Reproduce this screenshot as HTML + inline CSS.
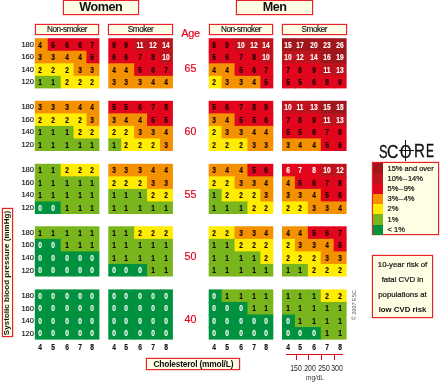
<!DOCTYPE html>
<html><head><meta charset="utf-8"><title>SCORE chart</title>
<style>
html,body{margin:0;padding:0;background:#fff;}
body{width:440px;height:383px;position:relative;overflow:hidden;font-family:"Liberation Sans",sans-serif;color:#111;}
.c{position:absolute;width:12.92px;height:12.55px;}
.n{position:absolute;font-weight:bold;font-size:8.6px;line-height:12.55px;height:12.55px;width:16px;text-align:center;transform:scaleX(.77);color:#100;margin-top:.4px;-webkit-text-stroke:.15px #100;}
.w{color:#fff;-webkit-text-stroke:.12px #fff;}
.bp{position:absolute;font-size:8.1px;line-height:12.55px;width:20px;text-align:right;transform:scaleX(.93);transform-origin:100% 50%;color:#111;-webkit-text-stroke:.15px #111;margin-top:.6px;}
.ax{position:absolute;font-weight:bold;font-size:8.6px;line-height:10px;width:16px;text-align:center;transform:scaleX(.78);color:#111;-webkit-text-stroke:.15px #111;}
.box{position:absolute;box-sizing:border-box;background:#fffde3;border:1px solid #e8222b;box-shadow:0 0 0 .5px rgba(244,150,140,.7);text-align:center;white-space:nowrap;}
.age{position:absolute;color:#e2061d;font-size:10.6px;line-height:12px;width:30px;text-align:center;-webkit-text-stroke:.2px #e2061d;}
</style></head><body>

<div class="box" style="left:62.5px;top:0.3px;width:76.5px;height:14.8px;font-weight:bold;font-size:12.6px;line-height:13.6px;letter-spacing:-.45px;">Women</div>
<div class="box" style="left:236.3px;top:0.3px;width:76.5px;height:14.8px;font-weight:bold;font-size:12.6px;line-height:13.6px;letter-spacing:-.45px;">Men</div>
<div class="box" style="left:34.8px;top:23.5px;width:64.6px;height:11.8px;font-size:8.2px;line-height:9.8px;letter-spacing:-.45px;-webkit-text-stroke:.15px #111;">Non-smoker</div>
<div class="box" style="left:108.3px;top:23.5px;width:64.6px;height:11.8px;font-size:8.2px;line-height:9.8px;letter-spacing:-.45px;-webkit-text-stroke:.15px #111;">Smoker</div>
<div class="box" style="left:208.7px;top:23.5px;width:64.6px;height:11.8px;font-size:8.2px;line-height:9.8px;letter-spacing:-.45px;-webkit-text-stroke:.15px #111;">Non-smoker</div>
<div class="box" style="left:282.0px;top:23.5px;width:64.6px;height:11.8px;font-size:8.2px;line-height:9.8px;letter-spacing:-.45px;-webkit-text-stroke:.15px #111;">Smoker</div>
<div class="age" style="left:175.5px;top:27.2px;font-size:11px;letter-spacing:-.3px;">Age</div>
<div class="age" style="left:175.4px;top:62.0px;">65</div>
<div class="age" style="left:175.4px;top:124.6px;">60</div>
<div class="age" style="left:175.4px;top:187.6px;">55</div>
<div class="age" style="left:175.4px;top:250.1px;">50</div>
<div class="age" style="left:175.4px;top:313.2px;">40</div>
<svg width="440" height="383" viewBox="0 0 440 383" style="position:absolute;left:0;top:0">
<rect x="34.80" y="38.20" width="13.92" height="13.55" fill="#f39100"/>
<rect x="47.72" y="38.20" width="13.92" height="13.55" fill="#e2061d"/>
<rect x="60.64" y="38.20" width="13.92" height="13.55" fill="#e2061d"/>
<rect x="73.56" y="38.20" width="13.92" height="13.55" fill="#e2061d"/>
<rect x="86.48" y="38.20" width="12.92" height="13.55" fill="#e2061d"/>
<rect x="34.80" y="50.75" width="13.92" height="13.55" fill="#f39100"/>
<rect x="47.72" y="50.75" width="13.92" height="13.55" fill="#f39100"/>
<rect x="60.64" y="50.75" width="13.92" height="13.55" fill="#f39100"/>
<rect x="73.56" y="50.75" width="13.92" height="13.55" fill="#f39100"/>
<rect x="86.48" y="50.75" width="12.92" height="13.55" fill="#e2061d"/>
<rect x="34.80" y="63.30" width="13.92" height="13.55" fill="#ffec00"/>
<rect x="47.72" y="63.30" width="13.92" height="13.55" fill="#ffec00"/>
<rect x="60.64" y="63.30" width="13.92" height="13.55" fill="#ffec00"/>
<rect x="73.56" y="63.30" width="13.92" height="13.55" fill="#f39100"/>
<rect x="86.48" y="63.30" width="12.92" height="13.55" fill="#f39100"/>
<rect x="34.80" y="75.85" width="13.92" height="12.55" fill="#79b51c"/>
<rect x="47.72" y="75.85" width="13.92" height="12.55" fill="#79b51c"/>
<rect x="60.64" y="75.85" width="13.92" height="12.55" fill="#ffec00"/>
<rect x="73.56" y="75.85" width="13.92" height="12.55" fill="#ffec00"/>
<rect x="86.48" y="75.85" width="12.92" height="12.55" fill="#ffec00"/>
<rect x="34.80" y="100.80" width="13.92" height="13.55" fill="#f39100"/>
<rect x="47.72" y="100.80" width="13.92" height="13.55" fill="#f39100"/>
<rect x="60.64" y="100.80" width="13.92" height="13.55" fill="#f39100"/>
<rect x="73.56" y="100.80" width="13.92" height="13.55" fill="#f39100"/>
<rect x="86.48" y="100.80" width="12.92" height="13.55" fill="#f39100"/>
<rect x="34.80" y="113.35" width="13.92" height="13.55" fill="#ffec00"/>
<rect x="47.72" y="113.35" width="13.92" height="13.55" fill="#ffec00"/>
<rect x="60.64" y="113.35" width="13.92" height="13.55" fill="#ffec00"/>
<rect x="73.56" y="113.35" width="13.92" height="13.55" fill="#ffec00"/>
<rect x="86.48" y="113.35" width="12.92" height="13.55" fill="#f39100"/>
<rect x="34.80" y="125.90" width="13.92" height="13.55" fill="#79b51c"/>
<rect x="47.72" y="125.90" width="13.92" height="13.55" fill="#79b51c"/>
<rect x="60.64" y="125.90" width="13.92" height="13.55" fill="#79b51c"/>
<rect x="73.56" y="125.90" width="13.92" height="13.55" fill="#ffec00"/>
<rect x="86.48" y="125.90" width="12.92" height="13.55" fill="#ffec00"/>
<rect x="34.80" y="138.45" width="13.92" height="12.55" fill="#79b51c"/>
<rect x="47.72" y="138.45" width="13.92" height="12.55" fill="#79b51c"/>
<rect x="60.64" y="138.45" width="13.92" height="12.55" fill="#79b51c"/>
<rect x="73.56" y="138.45" width="13.92" height="12.55" fill="#79b51c"/>
<rect x="86.48" y="138.45" width="12.92" height="12.55" fill="#79b51c"/>
<rect x="34.80" y="163.80" width="13.92" height="13.55" fill="#79b51c"/>
<rect x="47.72" y="163.80" width="13.92" height="13.55" fill="#79b51c"/>
<rect x="60.64" y="163.80" width="13.92" height="13.55" fill="#ffec00"/>
<rect x="73.56" y="163.80" width="13.92" height="13.55" fill="#ffec00"/>
<rect x="86.48" y="163.80" width="12.92" height="13.55" fill="#ffec00"/>
<rect x="34.80" y="176.35" width="13.92" height="13.55" fill="#79b51c"/>
<rect x="47.72" y="176.35" width="13.92" height="13.55" fill="#79b51c"/>
<rect x="60.64" y="176.35" width="13.92" height="13.55" fill="#79b51c"/>
<rect x="73.56" y="176.35" width="13.92" height="13.55" fill="#79b51c"/>
<rect x="86.48" y="176.35" width="12.92" height="13.55" fill="#79b51c"/>
<rect x="34.80" y="188.90" width="13.92" height="13.55" fill="#79b51c"/>
<rect x="47.72" y="188.90" width="13.92" height="13.55" fill="#79b51c"/>
<rect x="60.64" y="188.90" width="13.92" height="13.55" fill="#79b51c"/>
<rect x="73.56" y="188.90" width="13.92" height="13.55" fill="#79b51c"/>
<rect x="86.48" y="188.90" width="12.92" height="13.55" fill="#79b51c"/>
<rect x="34.80" y="201.45" width="13.92" height="12.55" fill="#00923f"/>
<rect x="47.72" y="201.45" width="13.92" height="12.55" fill="#00923f"/>
<rect x="60.64" y="201.45" width="13.92" height="12.55" fill="#79b51c"/>
<rect x="73.56" y="201.45" width="13.92" height="12.55" fill="#79b51c"/>
<rect x="86.48" y="201.45" width="12.92" height="12.55" fill="#79b51c"/>
<rect x="34.80" y="226.30" width="13.92" height="13.55" fill="#79b51c"/>
<rect x="47.72" y="226.30" width="13.92" height="13.55" fill="#79b51c"/>
<rect x="60.64" y="226.30" width="13.92" height="13.55" fill="#79b51c"/>
<rect x="73.56" y="226.30" width="13.92" height="13.55" fill="#79b51c"/>
<rect x="86.48" y="226.30" width="12.92" height="13.55" fill="#79b51c"/>
<rect x="34.80" y="238.85" width="13.92" height="13.55" fill="#00923f"/>
<rect x="47.72" y="238.85" width="13.92" height="13.55" fill="#00923f"/>
<rect x="60.64" y="238.85" width="13.92" height="13.55" fill="#79b51c"/>
<rect x="73.56" y="238.85" width="13.92" height="13.55" fill="#79b51c"/>
<rect x="86.48" y="238.85" width="12.92" height="13.55" fill="#79b51c"/>
<rect x="34.80" y="251.40" width="13.92" height="13.55" fill="#00923f"/>
<rect x="47.72" y="251.40" width="13.92" height="13.55" fill="#00923f"/>
<rect x="60.64" y="251.40" width="13.92" height="13.55" fill="#00923f"/>
<rect x="73.56" y="251.40" width="13.92" height="13.55" fill="#00923f"/>
<rect x="86.48" y="251.40" width="12.92" height="13.55" fill="#00923f"/>
<rect x="34.80" y="263.95" width="13.92" height="12.55" fill="#00923f"/>
<rect x="47.72" y="263.95" width="13.92" height="12.55" fill="#00923f"/>
<rect x="60.64" y="263.95" width="13.92" height="12.55" fill="#00923f"/>
<rect x="73.56" y="263.95" width="13.92" height="12.55" fill="#00923f"/>
<rect x="86.48" y="263.95" width="12.92" height="12.55" fill="#00923f"/>
<rect x="34.80" y="289.40" width="13.92" height="13.55" fill="#00923f"/>
<rect x="47.72" y="289.40" width="13.92" height="13.55" fill="#00923f"/>
<rect x="60.64" y="289.40" width="13.92" height="13.55" fill="#00923f"/>
<rect x="73.56" y="289.40" width="13.92" height="13.55" fill="#00923f"/>
<rect x="86.48" y="289.40" width="12.92" height="13.55" fill="#00923f"/>
<rect x="34.80" y="301.95" width="13.92" height="13.55" fill="#00923f"/>
<rect x="47.72" y="301.95" width="13.92" height="13.55" fill="#00923f"/>
<rect x="60.64" y="301.95" width="13.92" height="13.55" fill="#00923f"/>
<rect x="73.56" y="301.95" width="13.92" height="13.55" fill="#00923f"/>
<rect x="86.48" y="301.95" width="12.92" height="13.55" fill="#00923f"/>
<rect x="34.80" y="314.50" width="13.92" height="13.55" fill="#00923f"/>
<rect x="47.72" y="314.50" width="13.92" height="13.55" fill="#00923f"/>
<rect x="60.64" y="314.50" width="13.92" height="13.55" fill="#00923f"/>
<rect x="73.56" y="314.50" width="13.92" height="13.55" fill="#00923f"/>
<rect x="86.48" y="314.50" width="12.92" height="13.55" fill="#00923f"/>
<rect x="34.80" y="327.05" width="13.92" height="12.55" fill="#00923f"/>
<rect x="47.72" y="327.05" width="13.92" height="12.55" fill="#00923f"/>
<rect x="60.64" y="327.05" width="13.92" height="12.55" fill="#00923f"/>
<rect x="73.56" y="327.05" width="13.92" height="12.55" fill="#00923f"/>
<rect x="86.48" y="327.05" width="12.92" height="12.55" fill="#00923f"/>
<rect x="108.30" y="38.20" width="13.92" height="13.55" fill="#e2061d"/>
<rect x="121.22" y="38.20" width="13.92" height="13.55" fill="#e2061d"/>
<rect x="134.14" y="38.20" width="13.92" height="13.55" fill="#bf141d"/>
<rect x="147.06" y="38.20" width="13.92" height="13.55" fill="#bf141d"/>
<rect x="159.98" y="38.20" width="12.92" height="13.55" fill="#bf141d"/>
<rect x="108.30" y="50.75" width="13.92" height="13.55" fill="#e2061d"/>
<rect x="121.22" y="50.75" width="13.92" height="13.55" fill="#e2061d"/>
<rect x="134.14" y="50.75" width="13.92" height="13.55" fill="#e2061d"/>
<rect x="147.06" y="50.75" width="13.92" height="13.55" fill="#e2061d"/>
<rect x="159.98" y="50.75" width="12.92" height="13.55" fill="#bf141d"/>
<rect x="108.30" y="63.30" width="13.92" height="13.55" fill="#f39100"/>
<rect x="121.22" y="63.30" width="13.92" height="13.55" fill="#f39100"/>
<rect x="134.14" y="63.30" width="13.92" height="13.55" fill="#e2061d"/>
<rect x="147.06" y="63.30" width="13.92" height="13.55" fill="#e2061d"/>
<rect x="159.98" y="63.30" width="12.92" height="13.55" fill="#e2061d"/>
<rect x="108.30" y="75.85" width="13.92" height="12.55" fill="#f39100"/>
<rect x="121.22" y="75.85" width="13.92" height="12.55" fill="#f39100"/>
<rect x="134.14" y="75.85" width="13.92" height="12.55" fill="#f39100"/>
<rect x="147.06" y="75.85" width="13.92" height="12.55" fill="#f39100"/>
<rect x="159.98" y="75.85" width="12.92" height="12.55" fill="#f39100"/>
<rect x="108.30" y="100.80" width="13.92" height="13.55" fill="#e2061d"/>
<rect x="121.22" y="100.80" width="13.92" height="13.55" fill="#e2061d"/>
<rect x="134.14" y="100.80" width="13.92" height="13.55" fill="#e2061d"/>
<rect x="147.06" y="100.80" width="13.92" height="13.55" fill="#e2061d"/>
<rect x="159.98" y="100.80" width="12.92" height="13.55" fill="#e2061d"/>
<rect x="108.30" y="113.35" width="13.92" height="13.55" fill="#f39100"/>
<rect x="121.22" y="113.35" width="13.92" height="13.55" fill="#f39100"/>
<rect x="134.14" y="113.35" width="13.92" height="13.55" fill="#f39100"/>
<rect x="147.06" y="113.35" width="13.92" height="13.55" fill="#e2061d"/>
<rect x="159.98" y="113.35" width="12.92" height="13.55" fill="#e2061d"/>
<rect x="108.30" y="125.90" width="13.92" height="13.55" fill="#ffec00"/>
<rect x="121.22" y="125.90" width="13.92" height="13.55" fill="#ffec00"/>
<rect x="134.14" y="125.90" width="13.92" height="13.55" fill="#f39100"/>
<rect x="147.06" y="125.90" width="13.92" height="13.55" fill="#f39100"/>
<rect x="159.98" y="125.90" width="12.92" height="13.55" fill="#f39100"/>
<rect x="108.30" y="138.45" width="13.92" height="12.55" fill="#79b51c"/>
<rect x="121.22" y="138.45" width="13.92" height="12.55" fill="#ffec00"/>
<rect x="134.14" y="138.45" width="13.92" height="12.55" fill="#ffec00"/>
<rect x="147.06" y="138.45" width="13.92" height="12.55" fill="#ffec00"/>
<rect x="159.98" y="138.45" width="12.92" height="12.55" fill="#f39100"/>
<rect x="108.30" y="163.80" width="13.92" height="13.55" fill="#f39100"/>
<rect x="121.22" y="163.80" width="13.92" height="13.55" fill="#f39100"/>
<rect x="134.14" y="163.80" width="13.92" height="13.55" fill="#f39100"/>
<rect x="147.06" y="163.80" width="13.92" height="13.55" fill="#f39100"/>
<rect x="159.98" y="163.80" width="12.92" height="13.55" fill="#f39100"/>
<rect x="108.30" y="176.35" width="13.92" height="13.55" fill="#ffec00"/>
<rect x="121.22" y="176.35" width="13.92" height="13.55" fill="#ffec00"/>
<rect x="134.14" y="176.35" width="13.92" height="13.55" fill="#ffec00"/>
<rect x="147.06" y="176.35" width="13.92" height="13.55" fill="#f39100"/>
<rect x="159.98" y="176.35" width="12.92" height="13.55" fill="#f39100"/>
<rect x="108.30" y="188.90" width="13.92" height="13.55" fill="#79b51c"/>
<rect x="121.22" y="188.90" width="13.92" height="13.55" fill="#79b51c"/>
<rect x="134.14" y="188.90" width="13.92" height="13.55" fill="#79b51c"/>
<rect x="147.06" y="188.90" width="13.92" height="13.55" fill="#ffec00"/>
<rect x="159.98" y="188.90" width="12.92" height="13.55" fill="#ffec00"/>
<rect x="108.30" y="201.45" width="13.92" height="12.55" fill="#79b51c"/>
<rect x="121.22" y="201.45" width="13.92" height="12.55" fill="#79b51c"/>
<rect x="134.14" y="201.45" width="13.92" height="12.55" fill="#79b51c"/>
<rect x="147.06" y="201.45" width="13.92" height="12.55" fill="#79b51c"/>
<rect x="159.98" y="201.45" width="12.92" height="12.55" fill="#79b51c"/>
<rect x="108.30" y="226.30" width="13.92" height="13.55" fill="#79b51c"/>
<rect x="121.22" y="226.30" width="13.92" height="13.55" fill="#79b51c"/>
<rect x="134.14" y="226.30" width="13.92" height="13.55" fill="#ffec00"/>
<rect x="147.06" y="226.30" width="13.92" height="13.55" fill="#ffec00"/>
<rect x="159.98" y="226.30" width="12.92" height="13.55" fill="#ffec00"/>
<rect x="108.30" y="238.85" width="13.92" height="13.55" fill="#79b51c"/>
<rect x="121.22" y="238.85" width="13.92" height="13.55" fill="#79b51c"/>
<rect x="134.14" y="238.85" width="13.92" height="13.55" fill="#79b51c"/>
<rect x="147.06" y="238.85" width="13.92" height="13.55" fill="#79b51c"/>
<rect x="159.98" y="238.85" width="12.92" height="13.55" fill="#79b51c"/>
<rect x="108.30" y="251.40" width="13.92" height="13.55" fill="#79b51c"/>
<rect x="121.22" y="251.40" width="13.92" height="13.55" fill="#79b51c"/>
<rect x="134.14" y="251.40" width="13.92" height="13.55" fill="#79b51c"/>
<rect x="147.06" y="251.40" width="13.92" height="13.55" fill="#79b51c"/>
<rect x="159.98" y="251.40" width="12.92" height="13.55" fill="#79b51c"/>
<rect x="108.30" y="263.95" width="13.92" height="12.55" fill="#00923f"/>
<rect x="121.22" y="263.95" width="13.92" height="12.55" fill="#00923f"/>
<rect x="134.14" y="263.95" width="13.92" height="12.55" fill="#00923f"/>
<rect x="147.06" y="263.95" width="13.92" height="12.55" fill="#79b51c"/>
<rect x="159.98" y="263.95" width="12.92" height="12.55" fill="#79b51c"/>
<rect x="108.30" y="289.40" width="13.92" height="13.55" fill="#00923f"/>
<rect x="121.22" y="289.40" width="13.92" height="13.55" fill="#00923f"/>
<rect x="134.14" y="289.40" width="13.92" height="13.55" fill="#00923f"/>
<rect x="147.06" y="289.40" width="13.92" height="13.55" fill="#00923f"/>
<rect x="159.98" y="289.40" width="12.92" height="13.55" fill="#00923f"/>
<rect x="108.30" y="301.95" width="13.92" height="13.55" fill="#00923f"/>
<rect x="121.22" y="301.95" width="13.92" height="13.55" fill="#00923f"/>
<rect x="134.14" y="301.95" width="13.92" height="13.55" fill="#00923f"/>
<rect x="147.06" y="301.95" width="13.92" height="13.55" fill="#00923f"/>
<rect x="159.98" y="301.95" width="12.92" height="13.55" fill="#00923f"/>
<rect x="108.30" y="314.50" width="13.92" height="13.55" fill="#00923f"/>
<rect x="121.22" y="314.50" width="13.92" height="13.55" fill="#00923f"/>
<rect x="134.14" y="314.50" width="13.92" height="13.55" fill="#00923f"/>
<rect x="147.06" y="314.50" width="13.92" height="13.55" fill="#00923f"/>
<rect x="159.98" y="314.50" width="12.92" height="13.55" fill="#00923f"/>
<rect x="108.30" y="327.05" width="13.92" height="12.55" fill="#00923f"/>
<rect x="121.22" y="327.05" width="13.92" height="12.55" fill="#00923f"/>
<rect x="134.14" y="327.05" width="13.92" height="12.55" fill="#00923f"/>
<rect x="147.06" y="327.05" width="13.92" height="12.55" fill="#00923f"/>
<rect x="159.98" y="327.05" width="12.92" height="12.55" fill="#00923f"/>
<rect x="208.70" y="38.20" width="13.92" height="13.55" fill="#e2061d"/>
<rect x="221.62" y="38.20" width="13.92" height="13.55" fill="#e2061d"/>
<rect x="234.54" y="38.20" width="13.92" height="13.55" fill="#bf141d"/>
<rect x="247.46" y="38.20" width="13.92" height="13.55" fill="#bf141d"/>
<rect x="260.38" y="38.20" width="12.92" height="13.55" fill="#bf141d"/>
<rect x="208.70" y="50.75" width="13.92" height="13.55" fill="#e2061d"/>
<rect x="221.62" y="50.75" width="13.92" height="13.55" fill="#e2061d"/>
<rect x="234.54" y="50.75" width="13.92" height="13.55" fill="#e2061d"/>
<rect x="247.46" y="50.75" width="13.92" height="13.55" fill="#e2061d"/>
<rect x="260.38" y="50.75" width="12.92" height="13.55" fill="#bf141d"/>
<rect x="208.70" y="63.30" width="13.92" height="13.55" fill="#f39100"/>
<rect x="221.62" y="63.30" width="13.92" height="13.55" fill="#f39100"/>
<rect x="234.54" y="63.30" width="13.92" height="13.55" fill="#e2061d"/>
<rect x="247.46" y="63.30" width="13.92" height="13.55" fill="#e2061d"/>
<rect x="260.38" y="63.30" width="12.92" height="13.55" fill="#e2061d"/>
<rect x="208.70" y="75.85" width="13.92" height="12.55" fill="#ffec00"/>
<rect x="221.62" y="75.85" width="13.92" height="12.55" fill="#f39100"/>
<rect x="234.54" y="75.85" width="13.92" height="12.55" fill="#f39100"/>
<rect x="247.46" y="75.85" width="13.92" height="12.55" fill="#f39100"/>
<rect x="260.38" y="75.85" width="12.92" height="12.55" fill="#e2061d"/>
<rect x="208.70" y="100.80" width="13.92" height="13.55" fill="#e2061d"/>
<rect x="221.62" y="100.80" width="13.92" height="13.55" fill="#e2061d"/>
<rect x="234.54" y="100.80" width="13.92" height="13.55" fill="#e2061d"/>
<rect x="247.46" y="100.80" width="13.92" height="13.55" fill="#e2061d"/>
<rect x="260.38" y="100.80" width="12.92" height="13.55" fill="#e2061d"/>
<rect x="208.70" y="113.35" width="13.92" height="13.55" fill="#f39100"/>
<rect x="221.62" y="113.35" width="13.92" height="13.55" fill="#f39100"/>
<rect x="234.54" y="113.35" width="13.92" height="13.55" fill="#e2061d"/>
<rect x="247.46" y="113.35" width="13.92" height="13.55" fill="#e2061d"/>
<rect x="260.38" y="113.35" width="12.92" height="13.55" fill="#e2061d"/>
<rect x="208.70" y="125.90" width="13.92" height="13.55" fill="#ffec00"/>
<rect x="221.62" y="125.90" width="13.92" height="13.55" fill="#f39100"/>
<rect x="234.54" y="125.90" width="13.92" height="13.55" fill="#f39100"/>
<rect x="247.46" y="125.90" width="13.92" height="13.55" fill="#f39100"/>
<rect x="260.38" y="125.90" width="12.92" height="13.55" fill="#f39100"/>
<rect x="208.70" y="138.45" width="13.92" height="12.55" fill="#ffec00"/>
<rect x="221.62" y="138.45" width="13.92" height="12.55" fill="#ffec00"/>
<rect x="234.54" y="138.45" width="13.92" height="12.55" fill="#ffec00"/>
<rect x="247.46" y="138.45" width="13.92" height="12.55" fill="#f39100"/>
<rect x="260.38" y="138.45" width="12.92" height="12.55" fill="#f39100"/>
<rect x="208.70" y="163.80" width="13.92" height="13.55" fill="#f39100"/>
<rect x="221.62" y="163.80" width="13.92" height="13.55" fill="#f39100"/>
<rect x="234.54" y="163.80" width="13.92" height="13.55" fill="#f39100"/>
<rect x="247.46" y="163.80" width="13.92" height="13.55" fill="#e2061d"/>
<rect x="260.38" y="163.80" width="12.92" height="13.55" fill="#e2061d"/>
<rect x="208.70" y="176.35" width="13.92" height="13.55" fill="#ffec00"/>
<rect x="221.62" y="176.35" width="13.92" height="13.55" fill="#ffec00"/>
<rect x="234.54" y="176.35" width="13.92" height="13.55" fill="#f39100"/>
<rect x="247.46" y="176.35" width="13.92" height="13.55" fill="#f39100"/>
<rect x="260.38" y="176.35" width="12.92" height="13.55" fill="#f39100"/>
<rect x="208.70" y="188.90" width="13.92" height="13.55" fill="#79b51c"/>
<rect x="221.62" y="188.90" width="13.92" height="13.55" fill="#ffec00"/>
<rect x="234.54" y="188.90" width="13.92" height="13.55" fill="#ffec00"/>
<rect x="247.46" y="188.90" width="13.92" height="13.55" fill="#ffec00"/>
<rect x="260.38" y="188.90" width="12.92" height="13.55" fill="#f39100"/>
<rect x="208.70" y="201.45" width="13.92" height="12.55" fill="#79b51c"/>
<rect x="221.62" y="201.45" width="13.92" height="12.55" fill="#79b51c"/>
<rect x="234.54" y="201.45" width="13.92" height="12.55" fill="#79b51c"/>
<rect x="247.46" y="201.45" width="13.92" height="12.55" fill="#ffec00"/>
<rect x="260.38" y="201.45" width="12.92" height="12.55" fill="#ffec00"/>
<rect x="208.70" y="226.30" width="13.92" height="13.55" fill="#ffec00"/>
<rect x="221.62" y="226.30" width="13.92" height="13.55" fill="#ffec00"/>
<rect x="234.54" y="226.30" width="13.92" height="13.55" fill="#f39100"/>
<rect x="247.46" y="226.30" width="13.92" height="13.55" fill="#f39100"/>
<rect x="260.38" y="226.30" width="12.92" height="13.55" fill="#f39100"/>
<rect x="208.70" y="238.85" width="13.92" height="13.55" fill="#79b51c"/>
<rect x="221.62" y="238.85" width="13.92" height="13.55" fill="#79b51c"/>
<rect x="234.54" y="238.85" width="13.92" height="13.55" fill="#ffec00"/>
<rect x="247.46" y="238.85" width="13.92" height="13.55" fill="#ffec00"/>
<rect x="260.38" y="238.85" width="12.92" height="13.55" fill="#ffec00"/>
<rect x="208.70" y="251.40" width="13.92" height="13.55" fill="#79b51c"/>
<rect x="221.62" y="251.40" width="13.92" height="13.55" fill="#79b51c"/>
<rect x="234.54" y="251.40" width="13.92" height="13.55" fill="#79b51c"/>
<rect x="247.46" y="251.40" width="13.92" height="13.55" fill="#79b51c"/>
<rect x="260.38" y="251.40" width="12.92" height="13.55" fill="#ffec00"/>
<rect x="208.70" y="263.95" width="13.92" height="12.55" fill="#79b51c"/>
<rect x="221.62" y="263.95" width="13.92" height="12.55" fill="#79b51c"/>
<rect x="234.54" y="263.95" width="13.92" height="12.55" fill="#79b51c"/>
<rect x="247.46" y="263.95" width="13.92" height="12.55" fill="#79b51c"/>
<rect x="260.38" y="263.95" width="12.92" height="12.55" fill="#79b51c"/>
<rect x="208.70" y="289.40" width="13.92" height="13.55" fill="#00923f"/>
<rect x="221.62" y="289.40" width="13.92" height="13.55" fill="#79b51c"/>
<rect x="234.54" y="289.40" width="13.92" height="13.55" fill="#79b51c"/>
<rect x="247.46" y="289.40" width="13.92" height="13.55" fill="#79b51c"/>
<rect x="260.38" y="289.40" width="12.92" height="13.55" fill="#79b51c"/>
<rect x="208.70" y="301.95" width="13.92" height="13.55" fill="#00923f"/>
<rect x="221.62" y="301.95" width="13.92" height="13.55" fill="#00923f"/>
<rect x="234.54" y="301.95" width="13.92" height="13.55" fill="#00923f"/>
<rect x="247.46" y="301.95" width="13.92" height="13.55" fill="#79b51c"/>
<rect x="260.38" y="301.95" width="12.92" height="13.55" fill="#79b51c"/>
<rect x="208.70" y="314.50" width="13.92" height="13.55" fill="#00923f"/>
<rect x="221.62" y="314.50" width="13.92" height="13.55" fill="#00923f"/>
<rect x="234.54" y="314.50" width="13.92" height="13.55" fill="#00923f"/>
<rect x="247.46" y="314.50" width="13.92" height="13.55" fill="#00923f"/>
<rect x="260.38" y="314.50" width="12.92" height="13.55" fill="#00923f"/>
<rect x="208.70" y="327.05" width="13.92" height="12.55" fill="#00923f"/>
<rect x="221.62" y="327.05" width="13.92" height="12.55" fill="#00923f"/>
<rect x="234.54" y="327.05" width="13.92" height="12.55" fill="#00923f"/>
<rect x="247.46" y="327.05" width="13.92" height="12.55" fill="#00923f"/>
<rect x="260.38" y="327.05" width="12.92" height="12.55" fill="#00923f"/>
<rect x="282.00" y="38.20" width="13.92" height="13.55" fill="#9f171c"/>
<rect x="294.92" y="38.20" width="13.92" height="13.55" fill="#9f171c"/>
<rect x="307.84" y="38.20" width="13.92" height="13.55" fill="#9f171c"/>
<rect x="320.76" y="38.20" width="13.92" height="13.55" fill="#9f171c"/>
<rect x="333.68" y="38.20" width="12.92" height="13.55" fill="#9f171c"/>
<rect x="282.00" y="50.75" width="13.92" height="13.55" fill="#bf141d"/>
<rect x="294.92" y="50.75" width="13.92" height="13.55" fill="#bf141d"/>
<rect x="307.84" y="50.75" width="13.92" height="13.55" fill="#bf141d"/>
<rect x="320.76" y="50.75" width="13.92" height="13.55" fill="#9f171c"/>
<rect x="333.68" y="50.75" width="12.92" height="13.55" fill="#9f171c"/>
<rect x="282.00" y="63.30" width="13.92" height="13.55" fill="#e2061d"/>
<rect x="294.92" y="63.30" width="13.92" height="13.55" fill="#e2061d"/>
<rect x="307.84" y="63.30" width="13.92" height="13.55" fill="#e2061d"/>
<rect x="320.76" y="63.30" width="13.92" height="13.55" fill="#bf141d"/>
<rect x="333.68" y="63.30" width="12.92" height="13.55" fill="#bf141d"/>
<rect x="282.00" y="75.85" width="13.92" height="12.55" fill="#e2061d"/>
<rect x="294.92" y="75.85" width="13.92" height="12.55" fill="#e2061d"/>
<rect x="307.84" y="75.85" width="13.92" height="12.55" fill="#e2061d"/>
<rect x="320.76" y="75.85" width="13.92" height="12.55" fill="#e2061d"/>
<rect x="333.68" y="75.85" width="12.92" height="12.55" fill="#e2061d"/>
<rect x="282.00" y="100.80" width="13.92" height="13.55" fill="#bf141d"/>
<rect x="294.92" y="100.80" width="13.92" height="13.55" fill="#bf141d"/>
<rect x="307.84" y="100.80" width="13.92" height="13.55" fill="#bf141d"/>
<rect x="320.76" y="100.80" width="13.92" height="13.55" fill="#9f171c"/>
<rect x="333.68" y="100.80" width="12.92" height="13.55" fill="#9f171c"/>
<rect x="282.00" y="113.35" width="13.92" height="13.55" fill="#e2061d"/>
<rect x="294.92" y="113.35" width="13.92" height="13.55" fill="#e2061d"/>
<rect x="307.84" y="113.35" width="13.92" height="13.55" fill="#e2061d"/>
<rect x="320.76" y="113.35" width="13.92" height="13.55" fill="#bf141d"/>
<rect x="333.68" y="113.35" width="12.92" height="13.55" fill="#bf141d"/>
<rect x="282.00" y="125.90" width="13.92" height="13.55" fill="#e2061d"/>
<rect x="294.92" y="125.90" width="13.92" height="13.55" fill="#e2061d"/>
<rect x="307.84" y="125.90" width="13.92" height="13.55" fill="#e2061d"/>
<rect x="320.76" y="125.90" width="13.92" height="13.55" fill="#e2061d"/>
<rect x="333.68" y="125.90" width="12.92" height="13.55" fill="#e2061d"/>
<rect x="282.00" y="138.45" width="13.92" height="12.55" fill="#f39100"/>
<rect x="294.92" y="138.45" width="13.92" height="12.55" fill="#f39100"/>
<rect x="307.84" y="138.45" width="13.92" height="12.55" fill="#f39100"/>
<rect x="320.76" y="138.45" width="13.92" height="12.55" fill="#e2061d"/>
<rect x="333.68" y="138.45" width="12.92" height="12.55" fill="#e2061d"/>
<rect x="282.00" y="163.80" width="13.92" height="13.55" fill="#e2061d"/>
<rect x="294.92" y="163.80" width="13.92" height="13.55" fill="#e2061d"/>
<rect x="307.84" y="163.80" width="13.92" height="13.55" fill="#e2061d"/>
<rect x="320.76" y="163.80" width="13.92" height="13.55" fill="#bf141d"/>
<rect x="333.68" y="163.80" width="12.92" height="13.55" fill="#bf141d"/>
<rect x="282.00" y="176.35" width="13.92" height="13.55" fill="#f39100"/>
<rect x="294.92" y="176.35" width="13.92" height="13.55" fill="#e2061d"/>
<rect x="307.84" y="176.35" width="13.92" height="13.55" fill="#e2061d"/>
<rect x="320.76" y="176.35" width="13.92" height="13.55" fill="#e2061d"/>
<rect x="333.68" y="176.35" width="12.92" height="13.55" fill="#e2061d"/>
<rect x="282.00" y="188.90" width="13.92" height="13.55" fill="#f39100"/>
<rect x="294.92" y="188.90" width="13.92" height="13.55" fill="#f39100"/>
<rect x="307.84" y="188.90" width="13.92" height="13.55" fill="#f39100"/>
<rect x="320.76" y="188.90" width="13.92" height="13.55" fill="#e2061d"/>
<rect x="333.68" y="188.90" width="12.92" height="13.55" fill="#e2061d"/>
<rect x="282.00" y="201.45" width="13.92" height="12.55" fill="#ffec00"/>
<rect x="294.92" y="201.45" width="13.92" height="12.55" fill="#ffec00"/>
<rect x="307.84" y="201.45" width="13.92" height="12.55" fill="#f39100"/>
<rect x="320.76" y="201.45" width="13.92" height="12.55" fill="#f39100"/>
<rect x="333.68" y="201.45" width="12.92" height="12.55" fill="#f39100"/>
<rect x="282.00" y="226.30" width="13.92" height="13.55" fill="#f39100"/>
<rect x="294.92" y="226.30" width="13.92" height="13.55" fill="#f39100"/>
<rect x="307.84" y="226.30" width="13.92" height="13.55" fill="#e2061d"/>
<rect x="320.76" y="226.30" width="13.92" height="13.55" fill="#e2061d"/>
<rect x="333.68" y="226.30" width="12.92" height="13.55" fill="#e2061d"/>
<rect x="282.00" y="238.85" width="13.92" height="13.55" fill="#ffec00"/>
<rect x="294.92" y="238.85" width="13.92" height="13.55" fill="#f39100"/>
<rect x="307.84" y="238.85" width="13.92" height="13.55" fill="#f39100"/>
<rect x="320.76" y="238.85" width="13.92" height="13.55" fill="#f39100"/>
<rect x="333.68" y="238.85" width="12.92" height="13.55" fill="#e2061d"/>
<rect x="282.00" y="251.40" width="13.92" height="13.55" fill="#ffec00"/>
<rect x="294.92" y="251.40" width="13.92" height="13.55" fill="#ffec00"/>
<rect x="307.84" y="251.40" width="13.92" height="13.55" fill="#ffec00"/>
<rect x="320.76" y="251.40" width="13.92" height="13.55" fill="#f39100"/>
<rect x="333.68" y="251.40" width="12.92" height="13.55" fill="#f39100"/>
<rect x="282.00" y="263.95" width="13.92" height="12.55" fill="#79b51c"/>
<rect x="294.92" y="263.95" width="13.92" height="12.55" fill="#79b51c"/>
<rect x="307.84" y="263.95" width="13.92" height="12.55" fill="#ffec00"/>
<rect x="320.76" y="263.95" width="13.92" height="12.55" fill="#ffec00"/>
<rect x="333.68" y="263.95" width="12.92" height="12.55" fill="#ffec00"/>
<rect x="282.00" y="289.40" width="13.92" height="13.55" fill="#79b51c"/>
<rect x="294.92" y="289.40" width="13.92" height="13.55" fill="#79b51c"/>
<rect x="307.84" y="289.40" width="13.92" height="13.55" fill="#79b51c"/>
<rect x="320.76" y="289.40" width="13.92" height="13.55" fill="#ffec00"/>
<rect x="333.68" y="289.40" width="12.92" height="13.55" fill="#ffec00"/>
<rect x="282.00" y="301.95" width="13.92" height="13.55" fill="#79b51c"/>
<rect x="294.92" y="301.95" width="13.92" height="13.55" fill="#79b51c"/>
<rect x="307.84" y="301.95" width="13.92" height="13.55" fill="#79b51c"/>
<rect x="320.76" y="301.95" width="13.92" height="13.55" fill="#79b51c"/>
<rect x="333.68" y="301.95" width="12.92" height="13.55" fill="#79b51c"/>
<rect x="282.00" y="314.50" width="13.92" height="13.55" fill="#00923f"/>
<rect x="294.92" y="314.50" width="13.92" height="13.55" fill="#79b51c"/>
<rect x="307.84" y="314.50" width="13.92" height="13.55" fill="#79b51c"/>
<rect x="320.76" y="314.50" width="13.92" height="13.55" fill="#79b51c"/>
<rect x="333.68" y="314.50" width="12.92" height="13.55" fill="#79b51c"/>
<rect x="282.00" y="327.05" width="13.92" height="12.55" fill="#00923f"/>
<rect x="294.92" y="327.05" width="13.92" height="12.55" fill="#00923f"/>
<rect x="307.84" y="327.05" width="13.92" height="12.55" fill="#00923f"/>
<rect x="320.76" y="327.05" width="13.92" height="12.55" fill="#79b51c"/>
<rect x="333.68" y="327.05" width="12.92" height="12.55" fill="#79b51c"/>
</svg>
<div class="n" style="left:32.36px;top:38.20px">4</div>
<div class="n" style="left:44.98px;top:38.20px">5</div>
<div class="n" style="left:58.80px;top:38.20px">6</div>
<div class="n" style="left:71.62px;top:38.20px">6</div>
<div class="n" style="left:84.44px;top:38.20px">7</div>
<div class="n" style="left:32.36px;top:50.75px">3</div>
<div class="n" style="left:44.98px;top:50.75px">3</div>
<div class="n" style="left:58.80px;top:50.75px">4</div>
<div class="n" style="left:71.62px;top:50.75px">4</div>
<div class="n" style="left:84.44px;top:50.75px">5</div>
<div class="n" style="left:32.36px;top:63.30px">2</div>
<div class="n" style="left:44.98px;top:63.30px">2</div>
<div class="n" style="left:58.80px;top:63.30px">2</div>
<div class="n" style="left:71.62px;top:63.30px">3</div>
<div class="n" style="left:84.44px;top:63.30px">3</div>
<div class="n" style="left:32.36px;top:75.85px">1</div>
<div class="n" style="left:44.98px;top:75.85px">1</div>
<div class="n" style="left:58.80px;top:75.85px">2</div>
<div class="n" style="left:71.62px;top:75.85px">2</div>
<div class="n" style="left:84.44px;top:75.85px">2</div>
<div class="n" style="left:32.36px;top:100.80px">3</div>
<div class="n" style="left:44.98px;top:100.80px">3</div>
<div class="n" style="left:58.80px;top:100.80px">3</div>
<div class="n" style="left:71.62px;top:100.80px">4</div>
<div class="n" style="left:84.44px;top:100.80px">4</div>
<div class="n" style="left:32.36px;top:113.35px">2</div>
<div class="n" style="left:44.98px;top:113.35px">2</div>
<div class="n" style="left:58.80px;top:113.35px">2</div>
<div class="n" style="left:71.62px;top:113.35px">2</div>
<div class="n" style="left:84.44px;top:113.35px">3</div>
<div class="n" style="left:32.36px;top:125.90px">1</div>
<div class="n" style="left:44.98px;top:125.90px">1</div>
<div class="n" style="left:58.80px;top:125.90px">1</div>
<div class="n" style="left:71.62px;top:125.90px">2</div>
<div class="n" style="left:84.44px;top:125.90px">2</div>
<div class="n" style="left:32.36px;top:138.45px">1</div>
<div class="n" style="left:44.98px;top:138.45px">1</div>
<div class="n" style="left:58.80px;top:138.45px">1</div>
<div class="n" style="left:71.62px;top:138.45px">1</div>
<div class="n" style="left:84.44px;top:138.45px">1</div>
<div class="n" style="left:32.36px;top:163.80px">1</div>
<div class="n" style="left:44.98px;top:163.80px">1</div>
<div class="n" style="left:58.80px;top:163.80px">2</div>
<div class="n" style="left:71.62px;top:163.80px">2</div>
<div class="n" style="left:84.44px;top:163.80px">2</div>
<div class="n" style="left:32.36px;top:176.35px">1</div>
<div class="n" style="left:44.98px;top:176.35px">1</div>
<div class="n" style="left:58.80px;top:176.35px">1</div>
<div class="n" style="left:71.62px;top:176.35px">1</div>
<div class="n" style="left:84.44px;top:176.35px">1</div>
<div class="n" style="left:32.36px;top:188.90px">1</div>
<div class="n" style="left:44.98px;top:188.90px">1</div>
<div class="n" style="left:58.80px;top:188.90px">1</div>
<div class="n" style="left:71.62px;top:188.90px">1</div>
<div class="n" style="left:84.44px;top:188.90px">1</div>
<div class="n w" style="left:32.36px;top:201.45px">0</div>
<div class="n w" style="left:44.98px;top:201.45px">0</div>
<div class="n" style="left:58.80px;top:201.45px">1</div>
<div class="n" style="left:71.62px;top:201.45px">1</div>
<div class="n" style="left:84.44px;top:201.45px">1</div>
<div class="n" style="left:32.36px;top:226.30px">1</div>
<div class="n" style="left:44.98px;top:226.30px">1</div>
<div class="n" style="left:58.80px;top:226.30px">1</div>
<div class="n" style="left:71.62px;top:226.30px">1</div>
<div class="n" style="left:84.44px;top:226.30px">1</div>
<div class="n w" style="left:32.36px;top:238.85px">0</div>
<div class="n w" style="left:44.98px;top:238.85px">0</div>
<div class="n" style="left:58.80px;top:238.85px">1</div>
<div class="n" style="left:71.62px;top:238.85px">1</div>
<div class="n" style="left:84.44px;top:238.85px">1</div>
<div class="n w" style="left:32.36px;top:251.40px">0</div>
<div class="n w" style="left:44.98px;top:251.40px">0</div>
<div class="n w" style="left:58.80px;top:251.40px">0</div>
<div class="n w" style="left:71.62px;top:251.40px">0</div>
<div class="n w" style="left:84.44px;top:251.40px">0</div>
<div class="n w" style="left:32.36px;top:263.95px">0</div>
<div class="n w" style="left:44.98px;top:263.95px">0</div>
<div class="n w" style="left:58.80px;top:263.95px">0</div>
<div class="n w" style="left:71.62px;top:263.95px">0</div>
<div class="n w" style="left:84.44px;top:263.95px">0</div>
<div class="n w" style="left:32.36px;top:289.40px">0</div>
<div class="n w" style="left:44.98px;top:289.40px">0</div>
<div class="n w" style="left:58.80px;top:289.40px">0</div>
<div class="n w" style="left:71.62px;top:289.40px">0</div>
<div class="n w" style="left:84.44px;top:289.40px">0</div>
<div class="n w" style="left:32.36px;top:301.95px">0</div>
<div class="n w" style="left:44.98px;top:301.95px">0</div>
<div class="n w" style="left:58.80px;top:301.95px">0</div>
<div class="n w" style="left:71.62px;top:301.95px">0</div>
<div class="n w" style="left:84.44px;top:301.95px">0</div>
<div class="n w" style="left:32.36px;top:314.50px">0</div>
<div class="n w" style="left:44.98px;top:314.50px">0</div>
<div class="n w" style="left:58.80px;top:314.50px">0</div>
<div class="n w" style="left:71.62px;top:314.50px">0</div>
<div class="n w" style="left:84.44px;top:314.50px">0</div>
<div class="n w" style="left:32.36px;top:327.05px">0</div>
<div class="n w" style="left:44.98px;top:327.05px">0</div>
<div class="n w" style="left:58.80px;top:327.05px">0</div>
<div class="n w" style="left:71.62px;top:327.05px">0</div>
<div class="n w" style="left:84.44px;top:327.05px">0</div>
<div class="n" style="left:105.86px;top:38.20px">9</div>
<div class="n" style="left:118.48px;top:38.20px">9</div>
<div class="n w" style="left:132.30px;top:38.20px">11</div>
<div class="n w" style="left:145.12px;top:38.20px">12</div>
<div class="n w" style="left:157.94px;top:38.20px">14</div>
<div class="n" style="left:105.86px;top:50.75px">6</div>
<div class="n" style="left:118.48px;top:50.75px">6</div>
<div class="n" style="left:132.30px;top:50.75px">7</div>
<div class="n" style="left:145.12px;top:50.75px">8</div>
<div class="n w" style="left:157.94px;top:50.75px">10</div>
<div class="n" style="left:105.86px;top:63.30px">4</div>
<div class="n" style="left:118.48px;top:63.30px">4</div>
<div class="n" style="left:132.30px;top:63.30px">5</div>
<div class="n" style="left:145.12px;top:63.30px">6</div>
<div class="n" style="left:157.94px;top:63.30px">7</div>
<div class="n" style="left:105.86px;top:75.85px">3</div>
<div class="n" style="left:118.48px;top:75.85px">3</div>
<div class="n" style="left:132.30px;top:75.85px">3</div>
<div class="n" style="left:145.12px;top:75.85px">4</div>
<div class="n" style="left:157.94px;top:75.85px">4</div>
<div class="n" style="left:105.86px;top:100.80px">5</div>
<div class="n" style="left:118.48px;top:100.80px">5</div>
<div class="n" style="left:132.30px;top:100.80px">6</div>
<div class="n" style="left:145.12px;top:100.80px">7</div>
<div class="n" style="left:157.94px;top:100.80px">8</div>
<div class="n" style="left:105.86px;top:113.35px">3</div>
<div class="n" style="left:118.48px;top:113.35px">4</div>
<div class="n" style="left:132.30px;top:113.35px">4</div>
<div class="n" style="left:145.12px;top:113.35px">5</div>
<div class="n" style="left:157.94px;top:113.35px">5</div>
<div class="n" style="left:105.86px;top:125.90px">2</div>
<div class="n" style="left:118.48px;top:125.90px">2</div>
<div class="n" style="left:132.30px;top:125.90px">3</div>
<div class="n" style="left:145.12px;top:125.90px">3</div>
<div class="n" style="left:157.94px;top:125.90px">4</div>
<div class="n" style="left:105.86px;top:138.45px">1</div>
<div class="n" style="left:118.48px;top:138.45px">2</div>
<div class="n" style="left:132.30px;top:138.45px">2</div>
<div class="n" style="left:145.12px;top:138.45px">2</div>
<div class="n" style="left:157.94px;top:138.45px">3</div>
<div class="n" style="left:105.86px;top:163.80px">3</div>
<div class="n" style="left:118.48px;top:163.80px">3</div>
<div class="n" style="left:132.30px;top:163.80px">3</div>
<div class="n" style="left:145.12px;top:163.80px">4</div>
<div class="n" style="left:157.94px;top:163.80px">4</div>
<div class="n" style="left:105.86px;top:176.35px">2</div>
<div class="n" style="left:118.48px;top:176.35px">2</div>
<div class="n" style="left:132.30px;top:176.35px">2</div>
<div class="n" style="left:145.12px;top:176.35px">3</div>
<div class="n" style="left:157.94px;top:176.35px">3</div>
<div class="n" style="left:105.86px;top:188.90px">1</div>
<div class="n" style="left:118.48px;top:188.90px">1</div>
<div class="n" style="left:132.30px;top:188.90px">1</div>
<div class="n" style="left:145.12px;top:188.90px">2</div>
<div class="n" style="left:157.94px;top:188.90px">2</div>
<div class="n" style="left:105.86px;top:201.45px">1</div>
<div class="n" style="left:118.48px;top:201.45px">1</div>
<div class="n" style="left:132.30px;top:201.45px">1</div>
<div class="n" style="left:145.12px;top:201.45px">1</div>
<div class="n" style="left:157.94px;top:201.45px">1</div>
<div class="n" style="left:105.86px;top:226.30px">1</div>
<div class="n" style="left:118.48px;top:226.30px">1</div>
<div class="n" style="left:132.30px;top:226.30px">2</div>
<div class="n" style="left:145.12px;top:226.30px">2</div>
<div class="n" style="left:157.94px;top:226.30px">2</div>
<div class="n" style="left:105.86px;top:238.85px">1</div>
<div class="n" style="left:118.48px;top:238.85px">1</div>
<div class="n" style="left:132.30px;top:238.85px">1</div>
<div class="n" style="left:145.12px;top:238.85px">1</div>
<div class="n" style="left:157.94px;top:238.85px">1</div>
<div class="n" style="left:105.86px;top:251.40px">1</div>
<div class="n" style="left:118.48px;top:251.40px">1</div>
<div class="n" style="left:132.30px;top:251.40px">1</div>
<div class="n" style="left:145.12px;top:251.40px">1</div>
<div class="n" style="left:157.94px;top:251.40px">1</div>
<div class="n w" style="left:105.86px;top:263.95px">0</div>
<div class="n w" style="left:118.48px;top:263.95px">0</div>
<div class="n w" style="left:132.30px;top:263.95px">0</div>
<div class="n" style="left:145.12px;top:263.95px">1</div>
<div class="n" style="left:157.94px;top:263.95px">1</div>
<div class="n w" style="left:105.86px;top:289.40px">0</div>
<div class="n w" style="left:118.48px;top:289.40px">0</div>
<div class="n w" style="left:132.30px;top:289.40px">0</div>
<div class="n w" style="left:145.12px;top:289.40px">0</div>
<div class="n w" style="left:157.94px;top:289.40px">0</div>
<div class="n w" style="left:105.86px;top:301.95px">0</div>
<div class="n w" style="left:118.48px;top:301.95px">0</div>
<div class="n w" style="left:132.30px;top:301.95px">0</div>
<div class="n w" style="left:145.12px;top:301.95px">0</div>
<div class="n w" style="left:157.94px;top:301.95px">0</div>
<div class="n w" style="left:105.86px;top:314.50px">0</div>
<div class="n w" style="left:118.48px;top:314.50px">0</div>
<div class="n w" style="left:132.30px;top:314.50px">0</div>
<div class="n w" style="left:145.12px;top:314.50px">0</div>
<div class="n w" style="left:157.94px;top:314.50px">0</div>
<div class="n w" style="left:105.86px;top:327.05px">0</div>
<div class="n w" style="left:118.48px;top:327.05px">0</div>
<div class="n w" style="left:132.30px;top:327.05px">0</div>
<div class="n w" style="left:145.12px;top:327.05px">0</div>
<div class="n w" style="left:157.94px;top:327.05px">0</div>
<div class="n" style="left:206.26px;top:38.20px">8</div>
<div class="n" style="left:218.88px;top:38.20px">9</div>
<div class="n w" style="left:232.70px;top:38.20px">10</div>
<div class="n w" style="left:245.52px;top:38.20px">12</div>
<div class="n w" style="left:258.34px;top:38.20px">14</div>
<div class="n" style="left:206.26px;top:50.75px">5</div>
<div class="n" style="left:218.88px;top:50.75px">6</div>
<div class="n" style="left:232.70px;top:50.75px">7</div>
<div class="n" style="left:245.52px;top:50.75px">8</div>
<div class="n w" style="left:258.34px;top:50.75px">10</div>
<div class="n" style="left:206.26px;top:63.30px">4</div>
<div class="n" style="left:218.88px;top:63.30px">4</div>
<div class="n" style="left:232.70px;top:63.30px">5</div>
<div class="n" style="left:245.52px;top:63.30px">6</div>
<div class="n" style="left:258.34px;top:63.30px">7</div>
<div class="n" style="left:206.26px;top:75.85px">2</div>
<div class="n" style="left:218.88px;top:75.85px">3</div>
<div class="n" style="left:232.70px;top:75.85px">3</div>
<div class="n" style="left:245.52px;top:75.85px">4</div>
<div class="n" style="left:258.34px;top:75.85px">5</div>
<div class="n" style="left:206.26px;top:100.80px">5</div>
<div class="n" style="left:218.88px;top:100.80px">6</div>
<div class="n" style="left:232.70px;top:100.80px">7</div>
<div class="n" style="left:245.52px;top:100.80px">8</div>
<div class="n" style="left:258.34px;top:100.80px">9</div>
<div class="n" style="left:206.26px;top:113.35px">3</div>
<div class="n" style="left:218.88px;top:113.35px">4</div>
<div class="n" style="left:232.70px;top:113.35px">5</div>
<div class="n" style="left:245.52px;top:113.35px">5</div>
<div class="n" style="left:258.34px;top:113.35px">6</div>
<div class="n" style="left:206.26px;top:125.90px">2</div>
<div class="n" style="left:218.88px;top:125.90px">3</div>
<div class="n" style="left:232.70px;top:125.90px">3</div>
<div class="n" style="left:245.52px;top:125.90px">4</div>
<div class="n" style="left:258.34px;top:125.90px">4</div>
<div class="n" style="left:206.26px;top:138.45px">2</div>
<div class="n" style="left:218.88px;top:138.45px">2</div>
<div class="n" style="left:232.70px;top:138.45px">2</div>
<div class="n" style="left:245.52px;top:138.45px">3</div>
<div class="n" style="left:258.34px;top:138.45px">3</div>
<div class="n" style="left:206.26px;top:163.80px">3</div>
<div class="n" style="left:218.88px;top:163.80px">4</div>
<div class="n" style="left:232.70px;top:163.80px">4</div>
<div class="n" style="left:245.52px;top:163.80px">5</div>
<div class="n" style="left:258.34px;top:163.80px">6</div>
<div class="n" style="left:206.26px;top:176.35px">2</div>
<div class="n" style="left:218.88px;top:176.35px">2</div>
<div class="n" style="left:232.70px;top:176.35px">3</div>
<div class="n" style="left:245.52px;top:176.35px">3</div>
<div class="n" style="left:258.34px;top:176.35px">4</div>
<div class="n" style="left:206.26px;top:188.90px">1</div>
<div class="n" style="left:218.88px;top:188.90px">2</div>
<div class="n" style="left:232.70px;top:188.90px">2</div>
<div class="n" style="left:245.52px;top:188.90px">2</div>
<div class="n" style="left:258.34px;top:188.90px">3</div>
<div class="n" style="left:206.26px;top:201.45px">1</div>
<div class="n" style="left:218.88px;top:201.45px">1</div>
<div class="n" style="left:232.70px;top:201.45px">1</div>
<div class="n" style="left:245.52px;top:201.45px">2</div>
<div class="n" style="left:258.34px;top:201.45px">2</div>
<div class="n" style="left:206.26px;top:226.30px">2</div>
<div class="n" style="left:218.88px;top:226.30px">2</div>
<div class="n" style="left:232.70px;top:226.30px">3</div>
<div class="n" style="left:245.52px;top:226.30px">3</div>
<div class="n" style="left:258.34px;top:226.30px">4</div>
<div class="n" style="left:206.26px;top:238.85px">1</div>
<div class="n" style="left:218.88px;top:238.85px">1</div>
<div class="n" style="left:232.70px;top:238.85px">2</div>
<div class="n" style="left:245.52px;top:238.85px">2</div>
<div class="n" style="left:258.34px;top:238.85px">2</div>
<div class="n" style="left:206.26px;top:251.40px">1</div>
<div class="n" style="left:218.88px;top:251.40px">1</div>
<div class="n" style="left:232.70px;top:251.40px">1</div>
<div class="n" style="left:245.52px;top:251.40px">1</div>
<div class="n" style="left:258.34px;top:251.40px">2</div>
<div class="n" style="left:206.26px;top:263.95px">1</div>
<div class="n" style="left:218.88px;top:263.95px">1</div>
<div class="n" style="left:232.70px;top:263.95px">1</div>
<div class="n" style="left:245.52px;top:263.95px">1</div>
<div class="n" style="left:258.34px;top:263.95px">1</div>
<div class="n w" style="left:206.26px;top:289.40px">0</div>
<div class="n" style="left:218.88px;top:289.40px">1</div>
<div class="n" style="left:232.70px;top:289.40px">1</div>
<div class="n" style="left:245.52px;top:289.40px">1</div>
<div class="n" style="left:258.34px;top:289.40px">1</div>
<div class="n w" style="left:206.26px;top:301.95px">0</div>
<div class="n w" style="left:218.88px;top:301.95px">0</div>
<div class="n w" style="left:232.70px;top:301.95px">0</div>
<div class="n" style="left:245.52px;top:301.95px">1</div>
<div class="n" style="left:258.34px;top:301.95px">1</div>
<div class="n w" style="left:206.26px;top:314.50px">0</div>
<div class="n w" style="left:218.88px;top:314.50px">0</div>
<div class="n w" style="left:232.70px;top:314.50px">0</div>
<div class="n w" style="left:245.52px;top:314.50px">0</div>
<div class="n w" style="left:258.34px;top:314.50px">0</div>
<div class="n w" style="left:206.26px;top:327.05px">0</div>
<div class="n w" style="left:218.88px;top:327.05px">0</div>
<div class="n w" style="left:232.70px;top:327.05px">0</div>
<div class="n w" style="left:245.52px;top:327.05px">0</div>
<div class="n w" style="left:258.34px;top:327.05px">0</div>
<div class="n w" style="left:279.56px;top:38.20px">15</div>
<div class="n w" style="left:292.18px;top:38.20px">17</div>
<div class="n w" style="left:306.00px;top:38.20px">20</div>
<div class="n w" style="left:318.82px;top:38.20px">23</div>
<div class="n w" style="left:331.64px;top:38.20px">26</div>
<div class="n w" style="left:279.56px;top:50.75px">10</div>
<div class="n w" style="left:292.18px;top:50.75px">12</div>
<div class="n w" style="left:306.00px;top:50.75px">14</div>
<div class="n w" style="left:318.82px;top:50.75px">16</div>
<div class="n w" style="left:331.64px;top:50.75px">19</div>
<div class="n" style="left:279.56px;top:63.30px">7</div>
<div class="n" style="left:292.18px;top:63.30px">8</div>
<div class="n" style="left:306.00px;top:63.30px">9</div>
<div class="n w" style="left:318.82px;top:63.30px">11</div>
<div class="n w" style="left:331.64px;top:63.30px">13</div>
<div class="n" style="left:279.56px;top:75.85px">5</div>
<div class="n" style="left:292.18px;top:75.85px">5</div>
<div class="n" style="left:306.00px;top:75.85px">6</div>
<div class="n" style="left:318.82px;top:75.85px">8</div>
<div class="n" style="left:331.64px;top:75.85px">9</div>
<div class="n w" style="left:279.56px;top:100.80px">10</div>
<div class="n w" style="left:292.18px;top:100.80px">11</div>
<div class="n w" style="left:306.00px;top:100.80px">13</div>
<div class="n w" style="left:318.82px;top:100.80px">15</div>
<div class="n w" style="left:331.64px;top:100.80px">18</div>
<div class="n" style="left:279.56px;top:113.35px">7</div>
<div class="n" style="left:292.18px;top:113.35px">8</div>
<div class="n" style="left:306.00px;top:113.35px">9</div>
<div class="n w" style="left:318.82px;top:113.35px">11</div>
<div class="n w" style="left:331.64px;top:113.35px">13</div>
<div class="n" style="left:279.56px;top:125.90px">5</div>
<div class="n" style="left:292.18px;top:125.90px">5</div>
<div class="n" style="left:306.00px;top:125.90px">6</div>
<div class="n" style="left:318.82px;top:125.90px">7</div>
<div class="n" style="left:331.64px;top:125.90px">9</div>
<div class="n" style="left:279.56px;top:138.45px">3</div>
<div class="n" style="left:292.18px;top:138.45px">4</div>
<div class="n" style="left:306.00px;top:138.45px">4</div>
<div class="n" style="left:318.82px;top:138.45px">5</div>
<div class="n" style="left:331.64px;top:138.45px">6</div>
<div class="n w" style="left:279.56px;top:163.80px">6</div>
<div class="n w" style="left:292.18px;top:163.80px">7</div>
<div class="n w" style="left:306.00px;top:163.80px">8</div>
<div class="n w" style="left:318.82px;top:163.80px">10</div>
<div class="n w" style="left:331.64px;top:163.80px">12</div>
<div class="n" style="left:279.56px;top:176.35px">4</div>
<div class="n" style="left:292.18px;top:176.35px">5</div>
<div class="n" style="left:306.00px;top:176.35px">6</div>
<div class="n" style="left:318.82px;top:176.35px">7</div>
<div class="n" style="left:331.64px;top:176.35px">8</div>
<div class="n" style="left:279.56px;top:188.90px">3</div>
<div class="n" style="left:292.18px;top:188.90px">3</div>
<div class="n" style="left:306.00px;top:188.90px">4</div>
<div class="n" style="left:318.82px;top:188.90px">5</div>
<div class="n" style="left:331.64px;top:188.90px">6</div>
<div class="n" style="left:279.56px;top:201.45px">2</div>
<div class="n" style="left:292.18px;top:201.45px">2</div>
<div class="n" style="left:306.00px;top:201.45px">3</div>
<div class="n" style="left:318.82px;top:201.45px">3</div>
<div class="n" style="left:331.64px;top:201.45px">4</div>
<div class="n" style="left:279.56px;top:226.30px">4</div>
<div class="n" style="left:292.18px;top:226.30px">4</div>
<div class="n" style="left:306.00px;top:226.30px">5</div>
<div class="n" style="left:318.82px;top:226.30px">6</div>
<div class="n" style="left:331.64px;top:226.30px">7</div>
<div class="n" style="left:279.56px;top:238.85px">2</div>
<div class="n" style="left:292.18px;top:238.85px">3</div>
<div class="n" style="left:306.00px;top:238.85px">3</div>
<div class="n" style="left:318.82px;top:238.85px">4</div>
<div class="n" style="left:331.64px;top:238.85px">5</div>
<div class="n" style="left:279.56px;top:251.40px">2</div>
<div class="n" style="left:292.18px;top:251.40px">2</div>
<div class="n" style="left:306.00px;top:251.40px">2</div>
<div class="n" style="left:318.82px;top:251.40px">3</div>
<div class="n" style="left:331.64px;top:251.40px">3</div>
<div class="n" style="left:279.56px;top:263.95px">1</div>
<div class="n" style="left:292.18px;top:263.95px">1</div>
<div class="n" style="left:306.00px;top:263.95px">2</div>
<div class="n" style="left:318.82px;top:263.95px">2</div>
<div class="n" style="left:331.64px;top:263.95px">2</div>
<div class="n" style="left:279.56px;top:289.40px">1</div>
<div class="n" style="left:292.18px;top:289.40px">1</div>
<div class="n" style="left:306.00px;top:289.40px">1</div>
<div class="n" style="left:318.82px;top:289.40px">2</div>
<div class="n" style="left:331.64px;top:289.40px">2</div>
<div class="n" style="left:279.56px;top:301.95px">1</div>
<div class="n" style="left:292.18px;top:301.95px">1</div>
<div class="n" style="left:306.00px;top:301.95px">1</div>
<div class="n" style="left:318.82px;top:301.95px">1</div>
<div class="n" style="left:331.64px;top:301.95px">1</div>
<div class="n w" style="left:279.56px;top:314.50px">0</div>
<div class="n" style="left:292.18px;top:314.50px">1</div>
<div class="n" style="left:306.00px;top:314.50px">1</div>
<div class="n" style="left:318.82px;top:314.50px">1</div>
<div class="n" style="left:331.64px;top:314.50px">1</div>
<div class="n w" style="left:279.56px;top:327.05px">0</div>
<div class="n w" style="left:292.18px;top:327.05px">0</div>
<div class="n w" style="left:306.00px;top:327.05px">0</div>
<div class="n" style="left:318.82px;top:327.05px">1</div>
<div class="n" style="left:331.64px;top:327.05px">1</div>
<div class="bp" style="left:14.1px;top:38.20px">180</div>
<div class="bp" style="left:14.1px;top:50.75px">160</div>
<div class="bp" style="left:14.1px;top:63.30px">140</div>
<div class="bp" style="left:14.1px;top:75.85px">120</div>
<div class="bp" style="left:14.1px;top:100.80px">180</div>
<div class="bp" style="left:14.1px;top:113.35px">160</div>
<div class="bp" style="left:14.1px;top:125.90px">140</div>
<div class="bp" style="left:14.1px;top:138.45px">120</div>
<div class="bp" style="left:14.1px;top:163.80px">180</div>
<div class="bp" style="left:14.1px;top:176.35px">160</div>
<div class="bp" style="left:14.1px;top:188.90px">140</div>
<div class="bp" style="left:14.1px;top:201.45px">120</div>
<div class="bp" style="left:14.1px;top:226.30px">180</div>
<div class="bp" style="left:14.1px;top:238.85px">160</div>
<div class="bp" style="left:14.1px;top:251.40px">140</div>
<div class="bp" style="left:14.1px;top:263.95px">120</div>
<div class="bp" style="left:14.1px;top:289.40px">180</div>
<div class="bp" style="left:14.1px;top:301.95px">160</div>
<div class="bp" style="left:14.1px;top:314.50px">140</div>
<div class="bp" style="left:14.1px;top:327.05px">120</div>
<div class="ax" style="left:32.36px;top:342.2px">4</div>
<div class="ax" style="left:44.98px;top:342.2px">5</div>
<div class="ax" style="left:58.80px;top:342.2px">6</div>
<div class="ax" style="left:71.62px;top:342.2px">7</div>
<div class="ax" style="left:84.44px;top:342.2px">8</div>
<div class="ax" style="left:105.86px;top:342.2px">4</div>
<div class="ax" style="left:118.48px;top:342.2px">5</div>
<div class="ax" style="left:132.30px;top:342.2px">6</div>
<div class="ax" style="left:145.12px;top:342.2px">7</div>
<div class="ax" style="left:157.94px;top:342.2px">8</div>
<div class="ax" style="left:206.26px;top:342.2px">4</div>
<div class="ax" style="left:218.88px;top:342.2px">5</div>
<div class="ax" style="left:232.70px;top:342.2px">6</div>
<div class="ax" style="left:245.52px;top:342.2px">7</div>
<div class="ax" style="left:258.34px;top:342.2px">8</div>
<div class="ax" style="left:279.56px;top:342.2px">4</div>
<div class="ax" style="left:292.18px;top:342.2px">5</div>
<div class="ax" style="left:306.00px;top:342.2px">6</div>
<div class="ax" style="left:318.82px;top:342.2px">7</div>
<div class="ax" style="left:331.64px;top:342.2px">8</div>
<div class="box" style="left:146.3px;top:358px;width:94.2px;height:12px;font-weight:bold;font-size:8.4px;line-height:11.6px;letter-spacing:-.2px;">Cholesterol (mmol/L)</div>
<div class="box" style="left:1.6px;top:208.4px;width:11px;height:128.8px;"></div>
<div style="position:absolute;left:7.1px;top:273px;width:0;height:0;"><div style="position:absolute;left:-70px;top:-6px;width:140px;height:12px;line-height:12px;text-align:center;font-weight:bold;font-size:8px;letter-spacing:.04px;white-space:nowrap;transform:rotate(-90deg);">Systolic blood pressure (mmHg)</div></div>
<div style="position:absolute;left:286px;top:354px;width:56.5px;height:1.2px;background:#e2061d"></div>
<div style="position:absolute;left:295.6px;top:354px;width:1.2px;height:6px;background:#e2061d"></div>
<div style="position:absolute;left:308.2px;top:354px;width:1.2px;height:6px;background:#e2061d"></div>
<div style="position:absolute;left:321.0px;top:354px;width:1.2px;height:6px;background:#e2061d"></div>
<div style="position:absolute;left:333.8px;top:354px;width:1.2px;height:6px;background:#e2061d"></div>
<div style="position:absolute;left:286.4px;top:363px;width:20px;text-align:center;font-size:8.6px;line-height:10px;transform:scaleX(.8);color:#222;">150</div>
<div style="position:absolute;left:300.0px;top:363px;width:20px;text-align:center;font-size:8.6px;line-height:10px;transform:scaleX(.8);color:#222;">200</div>
<div style="position:absolute;left:313.7px;top:363px;width:20px;text-align:center;font-size:8.6px;line-height:10px;transform:scaleX(.8);color:#222;">250</div>
<div style="position:absolute;left:327.4px;top:363px;width:20px;text-align:center;font-size:8.6px;line-height:10px;transform:scaleX(.8);color:#222;">300</div>
<div style="position:absolute;left:295px;top:372.5px;width:40px;text-align:center;font-size:7.6px;line-height:10px;transform:scaleX(.85);color:#333;">mg/dL</div>
<div style="position:absolute;left:354px;top:304.5px;width:0;height:0;"><div style="position:absolute;left:-25px;top:-4px;width:50px;height:8px;line-height:8px;text-align:center;font-size:5.4px;color:#555;white-space:nowrap;transform:rotate(-90deg);">© 2007 ESC</div></div>
<div style="position:absolute;left:378.66px;top:141.50px;font-size:18px;line-height:20px;height:20px;transform:scaleX(0.714);transform-origin:0 50%;white-space:nowrap;color:#111;-webkit-text-stroke:.35px #111;">S</div>
<div style="position:absolute;left:387.33px;top:141.50px;font-size:18px;line-height:20px;height:20px;transform:scaleX(0.871);transform-origin:0 50%;white-space:nowrap;color:#111;-webkit-text-stroke:.35px #111;">C</div>
<div style="position:absolute;left:400.39px;top:141.50px;font-size:18px;line-height:20px;height:20px;transform:scaleX(0.816);transform-origin:0 50%;white-space:nowrap;color:#111;-webkit-text-stroke:.35px #111;">O</div>
<div style="position:absolute;left:414.14px;top:141.25px;font-size:18px;line-height:20px;height:20px;transform:scaleX(0.838);transform-origin:0 50%;white-space:nowrap;color:#111;-webkit-text-stroke:.35px #111;">R</div>
<div style="position:absolute;left:425.70px;top:141.25px;font-size:18px;line-height:20px;height:20px;transform:scaleX(0.667);transform-origin:0 50%;white-space:nowrap;color:#111;-webkit-text-stroke:.35px #111;">E</div>
<div style="position:absolute;left:405.4px;top:140px;width:1.1px;height:20.8px;background:#111"></div>
<div style="position:absolute;left:398.7px;top:150.3px;width:15px;height:1.1px;background:#111"></div>
<div class="box" style="left:372px;top:161.8px;width:66.8px;height:73.5px;"></div>
<div style="position:absolute;left:372.8px;top:163.30px;width:9.9px;height:10.25px;background:#9f171c"></div>
<div style="position:absolute;left:387.5px;top:163.60px;height:10.3px;line-height:10.3px;font-size:7.5px;white-space:nowrap;color:#111;-webkit-text-stroke:.2px #111;">15% and over</div>
<div style="position:absolute;left:372.8px;top:173.50px;width:9.9px;height:10.25px;background:#bf141d"></div>
<div style="position:absolute;left:387.5px;top:173.80px;height:10.3px;line-height:10.3px;font-size:7.5px;white-space:nowrap;color:#111;-webkit-text-stroke:.2px #111;">10%<span style="margin:0 .6px">–</span>14%</div>
<div style="position:absolute;left:372.8px;top:183.70px;width:9.9px;height:10.25px;background:#e2061d"></div>
<div style="position:absolute;left:387.5px;top:184.00px;height:10.3px;line-height:10.3px;font-size:7.5px;white-space:nowrap;color:#111;-webkit-text-stroke:.2px #111;">5%<span style="margin:0 .6px">–</span>9%</div>
<div style="position:absolute;left:372.8px;top:193.90px;width:9.9px;height:10.25px;background:#f39100"></div>
<div style="position:absolute;left:387.5px;top:194.20px;height:10.3px;line-height:10.3px;font-size:7.5px;white-space:nowrap;color:#111;-webkit-text-stroke:.2px #111;">3%<span style="margin:0 .6px">–</span>4%</div>
<div style="position:absolute;left:372.8px;top:204.10px;width:9.9px;height:10.25px;background:#ffec00"></div>
<div style="position:absolute;left:387.5px;top:204.40px;height:10.3px;line-height:10.3px;font-size:7.5px;white-space:nowrap;color:#111;-webkit-text-stroke:.2px #111;">2%</div>
<div style="position:absolute;left:372.8px;top:214.30px;width:9.9px;height:10.25px;background:#79b51c"></div>
<div style="position:absolute;left:387.5px;top:214.60px;height:10.3px;line-height:10.3px;font-size:7.5px;white-space:nowrap;color:#111;-webkit-text-stroke:.2px #111;">1%</div>
<div style="position:absolute;left:372.8px;top:224.50px;width:9.9px;height:10.25px;background:#00923f"></div>
<div style="position:absolute;left:387.5px;top:224.80px;height:10.3px;line-height:10.3px;font-size:7.5px;white-space:nowrap;color:#111;-webkit-text-stroke:.2px #111;">&lt; 1%</div>
<div class="box" style="left:371.9px;top:255px;width:61.3px;height:63.4px;"></div>
<div style="position:absolute;left:372px;top:259.8px;width:61px;height:10px;line-height:10px;text-align:center;font-size:7.8px;white-space:nowrap;color:#111;-webkit-text-stroke:.2px #111;">10-year risk of</div>
<div style="position:absolute;left:372px;top:275.0px;width:61px;height:10px;line-height:10px;text-align:center;font-size:7.8px;white-space:nowrap;color:#111;-webkit-text-stroke:.2px #111;">fatal CVD in</div>
<div style="position:absolute;left:372px;top:290.2px;width:61px;height:10px;line-height:10px;text-align:center;font-size:7.8px;white-space:nowrap;color:#111;-webkit-text-stroke:.2px #111;">populations at</div>
<div style="position:absolute;left:372px;top:305.4px;width:61px;height:10px;line-height:10px;text-align:center;font-size:7.8px;white-space:nowrap;color:#111;font-weight:bold;">low CVD risk</div>
</body></html>
